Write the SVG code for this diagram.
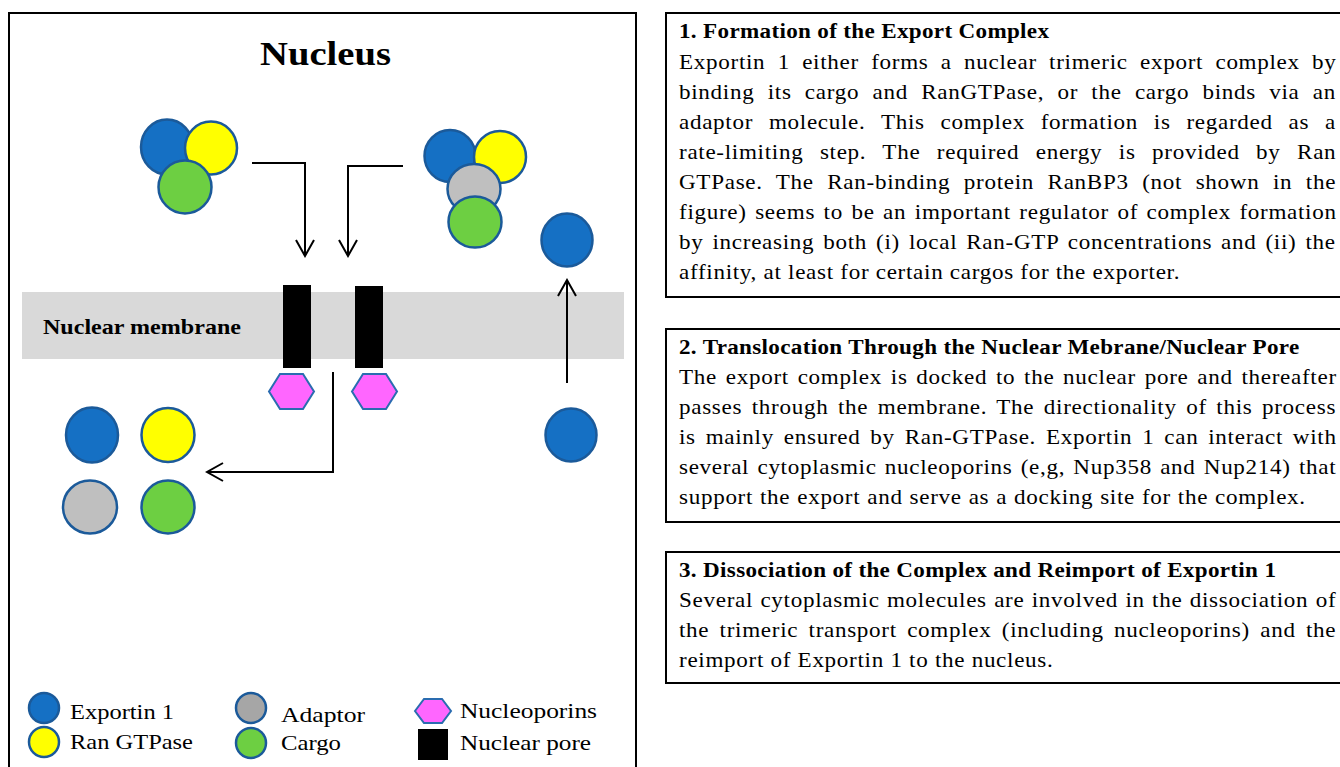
<svg xmlns="http://www.w3.org/2000/svg" width="1340" height="767" viewBox="0 0 1340 767">
<defs>
<style>
.frame{fill:none;stroke:#000;stroke-width:2}
.mol{stroke:#1b5a9a;stroke-width:2.5}
.exp{fill:#1570c4}
.ran{fill:#ffff00}
.ada{fill:#bfbfbf}
.adaL{fill:#a6a6a6}
.car{fill:#6dcf42}
.nup{fill:#ff66ff;stroke:#2a6cb0;stroke-width:2}
.pore{fill:#000}
.conn{fill:none;stroke:#000;stroke-width:2}
.t{font-family:"Liberation Serif","Times New Roman",serif;fill:#000}
.body{font-size:21px;letter-spacing:0.63px}
.head{font-size:21px;font-weight:bold;letter-spacing:0.3px}
.leg{font-size:21px}
</style>
<marker id="ah" viewBox="-18 -11 20 22" markerWidth="20" markerHeight="22" refX="0" refY="0" orient="auto" markerUnits="userSpaceOnUse">
<path d="M-16,-9 L0,0 L-16,9" fill="none" stroke="#000" stroke-width="2"/>
</marker>
</defs>
<rect x="0" y="0" width="1340" height="767" fill="#fff"/>

<g id="nucleus-panel">
<path class="frame" d="M9,768 V13 H636 V768"/>
<text class="t" x="325.5" y="65" text-anchor="middle" font-size="33" font-weight="bold" textLength="131" lengthAdjust="spacingAndGlyphs">Nucleus</text>
</g>

<g id="membrane">
<rect x="22" y="292" width="602" height="67" fill="#d9d9d9"/>
<text class="t" x="43" y="334" font-size="21" font-weight="bold" textLength="198" lengthAdjust="spacingAndGlyphs">Nuclear membrane</text>
</g>

<g id="pore-left">
<rect class="pore" x="283" y="285" width="28" height="83"/>
<polygon class="nup" points="269,391.5 280,374 303,374 314,391.5 303,409 280,409"/>
</g>
<g id="pore-right">
<rect class="pore" x="355" y="286" width="28" height="82"/>
<polygon class="nup" points="352,391.5 363,374 386,374 397,391.5 386,409 363,409"/>
</g>

<g id="complex-direct">
<ellipse class="mol exp" cx="167" cy="147" rx="26" ry="27.5"/>
<ellipse class="mol ran" cx="211" cy="148" rx="26" ry="26.5"/>
<ellipse class="mol car" cx="185" cy="187" rx="26.5" ry="26.5"/>
</g>

<g id="complex-adaptor">
<ellipse class="mol exp" cx="450" cy="156" rx="25.5" ry="26"/>
<ellipse class="mol ran" cx="500" cy="157" rx="26" ry="26"/>
<ellipse class="mol ada" cx="474" cy="189" rx="26.5" ry="25"/>
<ellipse class="mol car" cx="475" cy="222" rx="26.5" ry="25.5"/>
</g>

<g id="exportin-reimported">
<ellipse class="mol exp" cx="567" cy="240" rx="25.5" ry="26.5"/>
</g>

<g id="dissociated">
<ellipse class="mol exp" cx="92" cy="435" rx="26" ry="27.5"/>
<ellipse class="mol ran" cx="168" cy="435" rx="26.5" ry="27"/>
<ellipse class="mol ada" cx="90" cy="507" rx="27" ry="26.5"/>
<ellipse class="mol car" cx="168" cy="507" rx="26.5" ry="26.5"/>
</g>

<g id="exportin-cytoplasm">
<ellipse class="mol exp" cx="571" cy="435" rx="25.5" ry="26.5"/>
</g>

<g id="connectors">
<path class="conn" d="M252,163 H305 V256" marker-end="url(#ah)"/>
<path class="conn" d="M403,166 H348 V256" marker-end="url(#ah)"/>
<path class="conn" d="M333,372 V472 H207" marker-end="url(#ah)"/>
<path class="conn" d="M567,383 V280" marker-end="url(#ah)"/>
</g>

<g id="legend">
<ellipse class="mol exp" cx="44" cy="708" rx="15" ry="15"/>
<text class="t leg" x="70" y="719" textLength="104" lengthAdjust="spacingAndGlyphs">Exportin 1</text>
<ellipse class="mol ran" cx="44" cy="742" rx="15" ry="15"/>
<text class="t leg" x="70" y="749" textLength="123" lengthAdjust="spacingAndGlyphs">Ran GTPase</text>
<ellipse class="mol adaL" cx="251" cy="708" rx="15" ry="15"/>
<text class="t leg" x="281" y="722" textLength="84" lengthAdjust="spacingAndGlyphs">Adaptor</text>
<ellipse class="mol car" cx="251" cy="743" rx="15" ry="15"/>
<text class="t leg" x="281" y="750" textLength="60" lengthAdjust="spacingAndGlyphs">Cargo</text>
<polygon class="nup" points="415,711 424,699 442,699 451,711 442,723 424,723"/>
<text class="t leg" x="460" y="718" textLength="137" lengthAdjust="spacingAndGlyphs">Nucleoporins</text>
<rect class="pore" x="418" y="729" width="30" height="31"/>
<text class="t leg" x="460" y="750" textLength="131" lengthAdjust="spacingAndGlyphs">Nuclear pore</text>
</g>

<g id="step1">
<path class="frame" d="M1341,13 H666 V297 H1341"/>
<g transform="translate(679,0) scale(1.1,1)">
<text class="t head" x="0" y="38">1. Formation of the Export Complex</text>
<text class="t body" x="0" y="69" style="word-spacing:5.3px">Exportin 1 either forms a nuclear trimeric export complex by</text>
<text class="t body" x="0" y="99" style="word-spacing:6.2px">binding its cargo and RanGTPase, or the cargo binds via an</text>
<text class="t body" x="0" y="129" style="word-spacing:8.5px">adaptor molecule. This complex formation is regarded as a</text>
<text class="t body" x="0" y="159" style="word-spacing:9.1px">rate-limiting step. The required energy is provided by Ran</text>
<text class="t body" x="0" y="189" style="word-spacing:6.4px">GTPase. The Ran-binding protein RanBP3 (not shown in the</text>
<text class="t body" x="0" y="219" style="word-spacing:1.86px">figure) seems to be an important regulator of complex formation</text>
<text class="t body" x="0" y="249" style="word-spacing:2.3px">by increasing both (i) local Ran-GTP concentrations and (ii) the</text>
<text class="t body" x="0" y="279">affinity, at least for certain cargos for the exporter.</text>
</g>
</g>

<g id="step2">
<path class="frame" d="M1341,329 H666 V522 H1341"/>
<g transform="translate(679,0) scale(1.1,1)">
<text class="t head" x="0" y="354">2. Translocation Through the Nuclear Mebrane/Nuclear Pore</text>
<text class="t body" x="0" y="384" style="word-spacing:2.1px">The export complex is docked to the nuclear pore and thereafter</text>
<text class="t body" x="0" y="414" style="word-spacing:2.8px">passes through the membrane. The directionality of this process</text>
<text class="t body" x="0" y="444" style="word-spacing:3.1px">is mainly ensured by Ran-GTPase. Exportin 1 can interact with</text>
<text class="t body" x="0" y="474" style="word-spacing:1.6px">several cytoplasmic nucleoporins (e,g, Nup358 and Nup214) that</text>
<text class="t body" x="0" y="504" style="word-spacing:0.4px">support the export and serve as a docking site for the complex.</text>
</g>
</g>

<g id="step3">
<path class="frame" d="M1341,552 H666 V683 H1341"/>
<g transform="translate(679,0) scale(1.1,1)">
<text class="t head" x="0" y="577">3. Dissociation of the Complex and Reimport of Exportin 1</text>
<text class="t body" x="0" y="607" style="word-spacing:0.8px">Several cytoplasmic molecules are involved in the dissociation of</text>
<text class="t body" x="0" y="637" style="word-spacing:3.5px">the trimeric transport complex (including nucleoporins) and the</text>
<text class="t body" x="0" y="667">reimport of Exportin 1 to the nucleus.</text>
</g>
</g>
</svg>
